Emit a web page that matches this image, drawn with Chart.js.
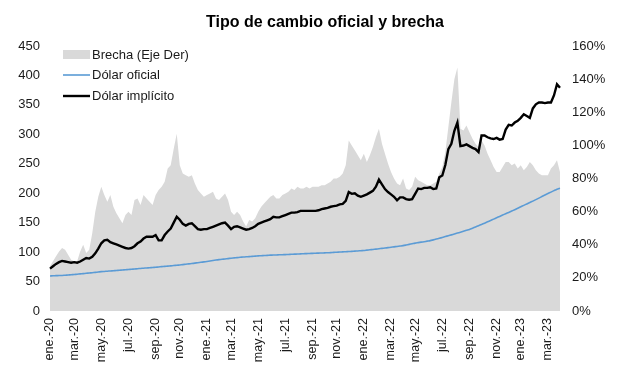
<!DOCTYPE html>
<html>
<head>
<meta charset="utf-8">
<script src="https://cdn.jsdelivr.net/npm/chart.js@4.4.1/dist/chart.umd.min.js"></script>
<style>
  html, body { margin: 0; padding: 0; background: #fff; }
  #wrap { width: 617px; height: 382px; position: relative; }
</style>
</head>
<body>
<div id="wrap"><canvas id="grafico"></canvas></div>
<script>
// serie semanal (viernes), desde el 3-ene-2020 hasta fines de marzo 2023
const inicio = new Date(2020, 0, 3);

const etiquetasEje = [
  'ene.-20', 'mar.-20', 'may.-20', 'jul.-20', 'sep.-20', 'nov.-20',
  'ene.-21', 'mar.-21', 'may.-21', 'jul.-21', 'sep.-21', 'nov.-21',
  'ene.-22', 'mar.-22', 'may.-22', 'jul.-22', 'sep.-22', 'nov.-22',
  'ene.-23', 'mar.-23'
];

const ticksIzq = [0, 50, 100, 150, 200, 250, 300, 350, 400, 450];
const ticksDer = [0, 20, 40, 60, 80, 100, 120, 140, 160];

const dolarImplicito = [
  72, 76, 80, 83, 85, 84, 83, 82, 83, 82,
  84, 87, 90, 89, 92, 98, 106, 115, 120, 121,
  117, 115, 113, 111, 109, 107, 106, 107, 110, 115,
  118, 123, 126, 126, 126, 129, 120, 120, 129, 135,
  140, 150, 160, 155, 148, 145, 148, 149, 144, 139,
  138, 139, 139, 141, 143, 145, 147, 149, 150, 145,
  139, 143, 144, 142, 140, 138, 139, 141, 144, 148,
  150, 152, 154, 156, 160, 159, 159, 161, 163, 165,
  167, 167, 168, 170, 170, 170, 170, 170, 170, 171,
  173, 174, 175, 177, 178, 179, 181, 182, 187, 202,
  199, 200, 196, 194, 196, 198, 201, 204, 211, 223,
  215, 207, 202, 198, 194, 188, 193, 193, 190, 189,
  190, 199, 208, 207, 209, 209, 210, 207, 208, 227,
  230, 248, 275, 284, 306, 320, 280, 281, 283, 280,
  277, 275, 270, 298, 298, 295, 293, 292, 294, 291,
  292, 308, 316, 315, 320, 323, 328, 334, 331, 328,
  344, 351, 354, 354, 353, 354, 354, 366, 385, 379
];

const dolarOficial = [
  59.5, 59.8, 60.0, 60.2, 60.4, 60.8, 61.2, 61.6, 62.0,
  62.5, 63.0, 63.5, 64.0, 64.5, 65.0, 65.6, 66.2, 66.8,
  67.2, 67.6, 68.0, 68.4, 68.8, 69.2, 69.6, 70.0, 70.4,
  70.9, 71.4, 71.8, 72.3, 72.7, 73.1, 73.5, 73.9, 74.3,
  74.8, 75.3, 75.8, 76.2, 76.7, 77.2, 77.7, 78.2,
  78.8, 79.4, 80.0, 80.6, 81.3, 82.0, 82.7, 83.4, 84.1,
  84.9, 85.7, 86.5, 87.2, 87.8, 88.4, 89.0, 89.7,
  90.2, 90.7, 91.2, 91.6, 92.0, 92.4, 92.8, 93.2, 93.6,
  93.9, 94.2, 94.5, 94.8, 95.0, 95.2, 95.4, 95.6, 95.8,
  96.0, 96.3, 96.5, 96.8, 97.0, 97.2, 97.5, 97.7,
  97.9, 98.1, 98.3, 98.5, 98.7, 98.9, 99.2, 99.5, 99.8,
  100.1, 100.4, 100.7, 101.0, 101.3, 101.7, 102.0, 102.4, 102.7,
  103.3, 103.9, 104.5, 105.1, 105.7, 106.3, 106.9, 107.6,
  108.2, 108.9, 109.6, 110.3, 111.0, 112.0, 113.1, 114.2, 115.3,
  116.1, 116.9, 117.7, 118.6, 119.5, 120.8, 122.1, 123.5, 124.9,
  126.4, 127.9, 129.3, 130.8, 132.3, 133.8, 135.4, 137.0, 138.6,
  140.6, 142.7, 144.8, 146.9, 149.1, 151.4, 153.7, 156.0,
  158.3, 160.6, 162.9, 165.2, 167.4, 169.7, 172.1, 174.5, 176.9,
  179.4, 181.8, 184.2, 186.6, 189.1, 191.7, 194.3, 196.9,
  199.4, 201.9, 204.4, 206.8, 208.5
];

// brecha en %, eje derecho
const brecha = [
  27, 30, 33, 36, 38, 37, 34, 31, 30, 30,
  36, 40, 35, 37, 47, 60, 69, 75, 70, 66,
  70, 63, 59, 56, 53, 58, 60, 58, 67, 68,
  64, 70, 68, 66, 64, 70, 73, 75, 78, 86,
  88, 98, 107, 88, 83, 82, 81, 82, 77, 73,
  71, 69, 70, 71, 72, 68, 67, 69, 71, 67,
  60, 58, 60, 58, 54, 51, 55, 54, 56, 60,
  63, 65, 67, 69, 70, 68, 68, 70, 71, 72,
  74, 73, 75, 74, 74, 75, 74, 75, 75, 75,
  76, 76, 77, 78, 80, 80, 81, 83, 88, 103,
  100, 97, 94, 91, 95, 90, 94, 99, 105, 110,
  101, 95, 89, 84, 80, 77, 76, 80, 74, 73,
  75, 81, 79, 78, 77, 76, 76, 77, 78, 83,
  87, 96, 111, 126, 140, 147, 110, 109, 112, 108,
  104, 101, 99, 103, 100, 95, 91, 87, 84, 84,
  87, 90, 90, 88, 89, 86, 88, 85, 87, 90,
  88, 85, 83, 82, 82, 82, 86, 88, 91, 84
];

const fuente = '"Liberation Sans", Arial, sans-serif';
const colorTexto = '#1a1a1a';
const gris = '#d9d9d9';
const azul = '#5b9bd5';

const DIA = 24 * 3600 * 1000;
const fechas = dolarImplicito.map((_, i) => {
  const d = new Date(inicio.getTime() + i * 7 * DIA);
  return d.toISOString().slice(0, 10);
});

// etiqueta del eje en la semana mas cercana al 1ro de cada mes impar
const marcas = {};
etiquetasEje.forEach((txt, i) => {
  const mes = new Date(2020 + Math.floor(2 * i / 12), (2 * i) % 12, 1);
  const idx = Math.round((mes - inicio) / (7 * DIA));
  marcas[Math.max(0, idx)] = txt;
});

const leyendaYTitulo = {
  id: 'leyendaYTitulo',
  afterDraw(chart) {
    const ctx = chart.ctx;
    ctx.save();
    ctx.fillStyle = '#000';
    ctx.font = 'bold 16px ' + fuente;
    ctx.textAlign = 'center';
    ctx.textBaseline = 'middle';
    ctx.fillText('Tipo de cambio oficial y brecha', 325, 23);

    const x0 = 63, x1 = 90;
    ctx.font = '13px ' + fuente;
    ctx.textAlign = 'left';

    ctx.fillStyle = gris;
    ctx.fillRect(x0, 50, x1 - x0, 9);
    ctx.fillStyle = colorTexto;
    ctx.fillText('Brecha (Eje Der)', x1 + 2, 55);

    ctx.strokeStyle = azul;
    ctx.lineWidth = 1.6;
    ctx.beginPath(); ctx.moveTo(x0, 75); ctx.lineTo(x1, 75); ctx.stroke();
    ctx.fillText('Dólar oficial', x1 + 2, 75);

    ctx.strokeStyle = '#000';
    ctx.lineWidth = 2.4;
    ctx.beginPath(); ctx.moveTo(x0, 96); ctx.lineTo(x1, 96); ctx.stroke();
    ctx.fillText('Dólar implícito', x1 + 2, 96);
    ctx.restore();
  }
};

new Chart(document.getElementById('grafico'), {
  type: 'line',
  data: {
    labels: fechas,
    datasets: [
      {
        label: 'Dólar implícito',
        data: dolarImplicito,
        yAxisID: 'y',
        borderColor: '#000',
        borderWidth: 2.4,
        pointRadius: 0,
        tension: 0,
        order: 1
      },
      {
        label: 'Dólar oficial',
        data: dolarOficial,
        yAxisID: 'y',
        borderColor: azul,
        borderWidth: 1.6,
        pointRadius: 0,
        tension: 0.3,
        order: 2
      },
      {
        label: 'Brecha (Eje Der)',
        data: brecha,
        yAxisID: 'y1',
        borderWidth: 0,
        borderColor: gris,
        backgroundColor: gris,
        fill: 'origin',
        pointRadius: 0,
        tension: 0,
        order: 3
      }
    ]
  },
  options: {
    responsive: true,
    maintainAspectRatio: false,
    animation: false,
    layout: { padding: { top: 46, left: 0, right: 0, bottom: 0 } },
    plugins: {
      legend: { display: false },
      tooltip: { enabled: false },
      title: { display: false }
    },
    scales: {
      x: {
        type: 'category',
        grid: { display: false, drawTicks: false },
        border: { display: false },
        ticks: {
          autoSkip: false,
          maxRotation: 90,
          minRotation: 90,
          padding: 7,
          color: colorTexto,
          font: { family: fuente, size: 12.5 },
          callback: (v, i) => marcas[i] || ''
        },
        afterFit: (s) => { s.height = 71; }
      },
      y: {
        position: 'left',
        min: 0,
        max: 450,
        grid: { display: false, drawTicks: false },
        border: { display: false },
        afterBuildTicks: (s) => { s.ticks = ticksIzq.map(v => ({ value: v })); },
        ticks: {
          padding: 10,
          color: colorTexto,
          font: { family: fuente, size: 13 }
        },
        afterFit: (s) => { s.width = 50; }
      },
      y1: {
        position: 'right',
        min: 0,
        max: 160,
        grid: { display: false, drawTicks: false },
        border: { display: false },
        afterBuildTicks: (s) => { s.ticks = ticksDer.map(v => ({ value: v })); },
        ticks: {
          padding: 12,
          color: colorTexto,
          font: { family: fuente, size: 13 },
          callback: (v) => v + '%'
        },
        afterFit: (s) => { s.width = 57; }
      }
    }
  },
  plugins: [leyendaYTitulo]
});
</script>
</body>
</html>
